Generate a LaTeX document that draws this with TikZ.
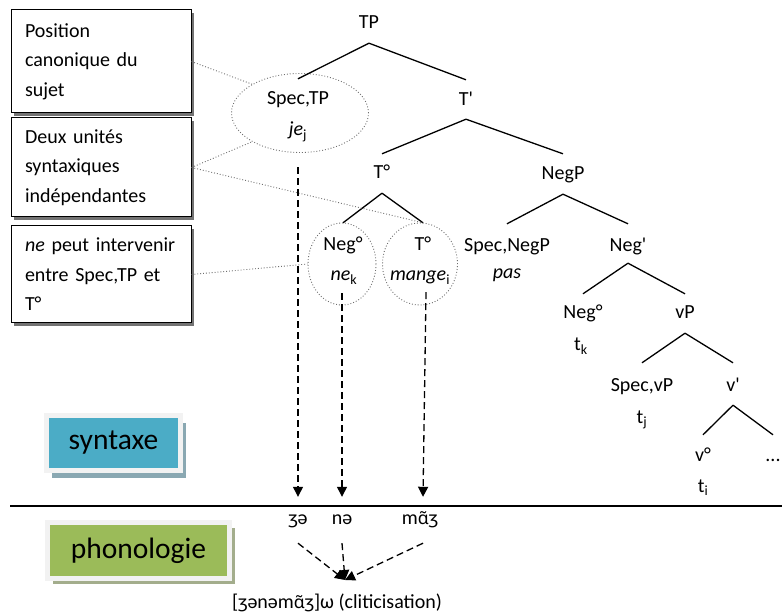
\documentclass[tikz,border=0pt]{standalone}
\usepackage{fontspec}
\setmainfont{Carlito}
\newfontfamily\ipafont{Noto Sans}[Scale=0.88]
\usetikzlibrary{arrows.meta,shapes.geometric,shadows}
\definecolor{synfill}{HTML}{4BACC6}
\definecolor{phofill}{HTML}{9BBB59}
\definecolor{framecol}{HTML}{F2F2F2}
\definecolor{synshadow}{HTML}{8AA8B2}
\definecolor{phoshadow}{HTML}{A3AD8C}
\definecolor{linkgray}{HTML}{6E6E6E}
% nasal back vowel, set in a family that has the combining tilde
\newcommand{\nasalA}{{\ipafont ɑ̃}}

\begin{document}
\begin{tikzpicture}[x=1pt,y=-1pt,
  every node/.style={font=\fontsize{20}{24}\selectfont},
  lab/.style={inner sep=0pt, text height=15pt, text depth=3pt},
  branch/.style={line width=1.3pt},
  link/.style={draw=linkgray, dotted, line width=0.9pt},
  halo/.style={draw=linkgray, dotted, line width=0.9pt, ellipse, inner sep=0pt},
  note/.style={draw=black, line width=1pt, fill=white, text width=152pt,
    align=left, inner xsep=14pt, inner ysep=0pt,
    font=\fontsize{20}{29.5}\selectfont,
    drop shadow={shadow xshift=3pt, shadow yshift=-3pt, fill=black!55, opacity=1}},
  levelbox/.style={draw=framecol, line width=5.5pt, inner sep=0pt,
    font=\fontsize{29.5}{33}\selectfont},
  move/.style={line width=1.3pt, dash pattern=on 7pt off 4pt,
    -{Triangle[width=10pt,length=10pt]}},
]
\useasboundingbox (0,0) rectangle (782,612);

% --- comment boxes on the left
\node[note, minimum height=103pt] (box1) at (101,61.5)
  {\mbox{Position}\\\mbox{canonique du}\\\mbox{sujet}};
\node[note, minimum height=99pt] (box2) at (101,167.5)
  {\mbox{Deux unités}\\\mbox{syntaxiques}\\\mbox{indépendantes}};
\node[note, minimum height=97pt] (box3) at (101,274.5)
  {\mbox{\textit{ne} peut intervenir}\\\mbox{entre Spec,TP et}\\\mbox{T°}};

% --- highlighted positions
\node[halo, minimum width=137pt, minimum height=79pt] (SpecEll) at (300,113) {};
\node[halo, minimum width=68pt, minimum height=82pt] (NegCirc) at (342,264) {};
\node[halo, minimum width=75pt, minimum height=82pt] (TCirc) at (420,264) {};

% --- tree labels
\node[lab] (TP) at (369,23) {TP};
\node[lab] (SpecTP) at (298,99) {Spec,TP};
\node[lab] (je) at (298,130) {\textit{je}\textsubscript{j}};
\node[lab] (Tbar) at (466,100) {T\textquotesingle};
\node[lab] (Tdeg) at (382,173) {T°};
\node[lab] (NegP) at (563,174) {NegP};
\node[lab] (NegDeg) at (343,245) {Neg°};
\node[lab] (ne) at (344,275) {\textit{ne}\textsubscript{k}};
\node[lab] (Tdeg2) at (423,245) {T°};
\node[lab] (mange) at (420,275) {\textit{mange}\textsubscript{i}};
\node[lab] (SpecNegP) at (507,246) {Spec,NegP};
\node[lab] (pas) at (507,273) {\textit{pas}};
\node[lab] (Negbar) at (628,246) {Neg\textquotesingle};
\node[lab] (NegDeg2) at (583,313) {Neg°};
\node[lab] (tk) at (581,345) {t\textsubscript{k}};
\node[lab] (vP) at (685,313) {vP};
\node[lab] (SpecvP) at (642,385) {Spec,vP};
\node[lab] (tj) at (642,417) {t\textsubscript{j}};
\node[lab] (vbar) at (733,385) {v\textquotesingle};
\node[lab] (vdeg) at (703,455) {v°};
\node[lab] (ti) at (703,486) {t\textsubscript{i}};
\node[lab] (dots) at (773,455) {...};

% --- branches
\draw[branch] ([yshift=-11pt]TP.south) -- ([yshift=11pt]SpecTP.north);
\draw[branch] ([yshift=-11pt]TP.south) -- ([yshift=11pt]Tbar.north);
\draw[branch] ([yshift=-10pt]Tbar.south) -- ([yshift=10pt]Tdeg.north);
\draw[branch] ([yshift=-10pt]Tbar.south) -- ([yshift=11pt]NegP.north);
\draw[branch] ([yshift=-11pt]Tdeg.south) -- ([yshift=13pt]NegDeg.north);
\draw[branch] ([yshift=-11pt]Tdeg.south) -- ([yshift=13pt]Tdeg2.north);
\draw[branch] ([yshift=-11pt]NegP.south) -- ([yshift=13pt]SpecNegP.north);
\draw[branch] ([yshift=-11pt]NegP.south) -- ([yshift=13pt]Negbar.north);
\draw[branch] ([yshift=-8pt]Negbar.south) -- ([yshift=10pt]NegDeg2.north);
\draw[branch] ([yshift=-8pt]Negbar.south) -- ([yshift=10pt]vP.north);
\draw[branch] ([yshift=-11pt]vP.south) -- ([yshift=13pt]SpecvP.north);
\draw[branch] ([yshift=-11pt]vP.south) -- ([yshift=13pt]vbar.north);
\draw[branch] ([yshift=-11pt]vbar.south) -- ([yshift=11pt]vdeg.north);
\draw[branch] ([yshift=-11pt]vbar.south) -- ([yshift=11pt]dots.north);

% --- dotted links from the comments
\draw[link] (box1.east) -- (SpecEll.149);
\draw[link] (box2.east) -- (SpecEll.211);
\draw[link] (box2.east) -- ([yshift=13pt]Tdeg2.north);
\draw[link] (box3.east) -- (NegCirc.west);

% --- levels
\node[levelbox, fill=synfill, minimum width=134pt, minimum height=55pt,
  general shadow={shadow xshift=5pt, shadow yshift=-7pt, fill=synshadow}]
  (syn) at (113.5,443) {syntaxe};
\node[levelbox, fill=phofill, minimum width=182pt, minimum height=56pt,
  general shadow={shadow xshift=5pt, shadow yshift=-5pt, fill=phoshadow}]
  (pho) at (138.5,550.5) {phonologie};

\coordinate (sepL) at (10,506);
\coordinate (sepR) at (782,506);
\draw[line width=1.3pt] (sepL) -- (sepR);

% --- phonological forms
\node[lab] (ze) at (298,518) {ʒə};
\node[lab] (nə) at (342,518) {nə};
\node[lab] (ma) at (420,518) {m\nasalA ʒ};
\node[lab] (clit) at (337,602) {[ʒənəm\nasalA ʒ]ω (cliticisation)};
\coordinate (cl) at (345,580);

% --- spell-out
\draw[move] ([yshift=-28pt]je.south) -- ([yshift=12pt]ze.north);
\draw[move] ([yshift=12pt]NegCirc.south) -- ([yshift=12pt]nə.north);
\draw[move] ([xshift=3pt,yshift=-38pt]Tdeg2.south) -- ([xshift=3pt,yshift=12pt]ma.north);

% --- cliticisation
\draw[move] ([yshift=-16pt]ze.south) -- (cl);
\draw[move] ([yshift=-16pt]nə.south) -- (cl);
\draw[move] ([xshift=3pt,yshift=-16pt]ma.south) -- (cl);
\end{tikzpicture}
\end{document}
